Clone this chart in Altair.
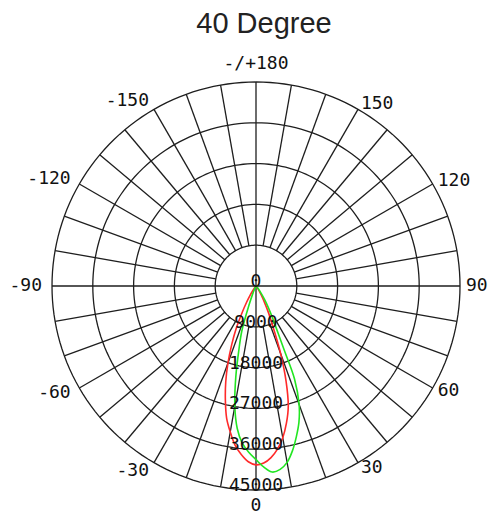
import altair as alt
import pandas as pd
import numpy as np

title_text = "40 Degree"
r_max = 45000
ring_values = [9000, 18000, 27000, 36000, 45000]
ring_label_values = [0, 9000, 18000, 27000, 36000, 45000]
ring_label_texts = ["0", "9000", "18000", "27000", "36000", "45000"]
spoke_angles = list(range(-170, 181, 10))
axis_spokes = [0, 90, 180, -90]
angle_tick_values = [0, 30, 60, 90, 120, 150, 180, -150, -120, -90, -60, -30]
angle_tick_texts = ["0", "30", "60", "90", "120", "150", "-/+180",
                    "-150", "-120", "-90", "-60", "-30"]

red_deg = [-90, -45, -40, -35, -32.5, -30, -27.5, -25, -22.5, -20, -17.5, -15,
           -12.5, -10, -7.5, -5, -2.5, 0, 2.5, 5, 7.5, 10, 12.5, 15, 17.5, 20,
           22.5, 25, 27.5, 30, 32.5, 35, 40, 45, 90]
red_cd = [0, 0, 300, 1200, 2500, 4200, 6700, 10300, 14000, 18100, 22200, 26100,
          29900, 32700, 35400, 37300, 38800, 39450, 39100, 38000, 36300, 34000,
          31000, 27500, 22100, 15900, 9900, 6600, 4000, 2300, 1300, 700, 200, 0, 0]

green_deg = [-90, -35, -30, -27.5, -25, -22.5, -20, -17.5, -15, -12.5, -10, -7.5,
             -5, -2.5, 0, 2.5, 5, 7.5, 10, 12.5, 15, 17.5, 20, 22.5, 23.75, 25,
             27.5, 30, 32.5, 35, 40, 45, 90]
green_cd = [0, 0, 100, 300, 800, 2000, 4700, 10400, 14600, 20600, 26900, 31700,
            34800, 36700, 38300, 40000, 41200, 40800, 39500, 37200, 34400, 31500,
            27800, 22200, 15600, 11700, 7800, 5300, 3500, 2100, 600, 0, 0]

# layout constants (pixels)
W, H = 480, 508          # plot area = whole drawing
CX, CY = 248, 278        # pole position inside the plot area
R_PX = 204               # radius of the 45000 ring
U = r_max / R_PX         # data units per pixel
TITLE_X_PX, TITLE_BASELINE_PX = 256, 25

LABEL_R_RIGHT = 46300
LABEL_R_LEFT = 47200
LABEL_R_TOP = 48950
LABEL_R_BOTTOM = 48500
GRID = "#1e1e1e"
MONO = "DejaVu Sans Mono"
FS = 18

X = alt.X("x:Q", scale=alt.Scale(domain=[-CX * U, (W - CX) * U], nice=False, zero=False), axis=None)
Y = alt.Y("y:Q", scale=alt.Scale(domain=[-(H - CY) * U, CY * U], nice=False, zero=False), axis=None)

def polar(chart, r="r", a="a"):
    return chart.transform_calculate(
        x=f"datum.{r} * sin(datum.{a} * PI / 180)",
        y=f"-datum.{r} * cos(datum.{a} * PI / 180)",
    )

# title
title = alt.Chart(pd.DataFrame({"t": [title_text]})).transform_calculate(
    x=f"{(TITLE_X_PX - CX) * U}",
    y=f"{(CY - TITLE_BASELINE_PX) * U}",
).mark_text(
    font="Liberation Sans", fontSize=29, color="#222", baseline="alphabetic", align="center"
).encode(x=X, y=Y, text="t:N")

# rings
ring_rows = [{"ring": rv, "a": float(t), "r": rv} for rv in ring_values for t in np.arange(0, 361, 2)]
rings = polar(alt.Chart(pd.DataFrame(ring_rows))).mark_line(
    color=GRID, strokeWidth=1.3
).encode(x=X, y=Y, detail="ring:N", order="a:Q")

# spokes
spoke_df = pd.DataFrame({
    "a": spoke_angles,
    "r0": [0 if (a in axis_spokes or a - 360 in axis_spokes) else ring_values[0] for a in spoke_angles],
    "r1": [r_max] * len(spoke_angles),
})
spokes = alt.Chart(spoke_df).transform_calculate(
    x="datum.r0 * sin(datum.a * PI / 180)",
    y="-datum.r0 * cos(datum.a * PI / 180)",
    x2="datum.r1 * sin(datum.a * PI / 180)",
    y2="-datum.r1 * cos(datum.a * PI / 180)",
).mark_rule(color=GRID, strokeWidth=1.3).encode(x=X, y=Y, x2="x2:Q", y2="y2:Q")

# curves
curve_df = pd.concat([
    pd.DataFrame({"a": red_deg, "r": red_cd, "series": "C0-180"}),
    pd.DataFrame({"a": green_deg, "r": green_cd, "series": "C90-270"}),
])
curves = polar(alt.Chart(curve_df)).mark_line(
    strokeWidth=1.6, interpolate="catmull-rom"
).encode(
    x=X, y=Y, order="a:Q",
    color=alt.Color("series:N", scale=alt.Scale(domain=["C0-180", "C90-270"],
                                                range=["#ff2a2a", "#22e622"]), legend=None),
)

# ring labels
ring_lab_df = pd.DataFrame({"r": ring_label_values, "txt": ring_label_texts, "a": 0})
ring_labels = polar(alt.Chart(ring_lab_df)).mark_text(
    font=MONO, fontSize=FS, color="#111", baseline="alphabetic", align="center", dy=1
).encode(x=X, y=Y, text="txt:N")

# angle labels
def label_r(a):
    if a == 0:
        return LABEL_R_BOTTOM
    if a == 180:
        return LABEL_R_TOP
    return LABEL_R_RIGHT if a > 0 else LABEL_R_LEFT

ang_df = pd.DataFrame({"a": angle_tick_values, "txt": angle_tick_texts})
ang_df["r"] = [label_r(a) for a in angle_tick_values]

def ang_layer(cond, align):
    return polar(alt.Chart(ang_df).transform_filter(cond)).mark_text(
        font=MONO, fontSize=FS, color="#111", baseline="middle", align=align
    ).encode(x=X, y=Y, text="txt:N")

ang_center = ang_layer("datum.a == 0 || datum.a == 180", "center")
ang_right = ang_layer("datum.a > 0 && datum.a < 180", "left")
ang_left = ang_layer("datum.a < 0", "right")

chart = alt.layer(title, rings, spokes, curves, ring_labels,
                  ang_center, ang_right, ang_left).properties(
    width=W, height=H,
    autosize=alt.AutoSizeParams(type="none"),
    padding={"left": 0, "top": 0, "right": 0, "bottom": 0},
).configure_view(stroke=None)

chart.save("out.html", embed_options={"renderer": "svg", "actions": False})
